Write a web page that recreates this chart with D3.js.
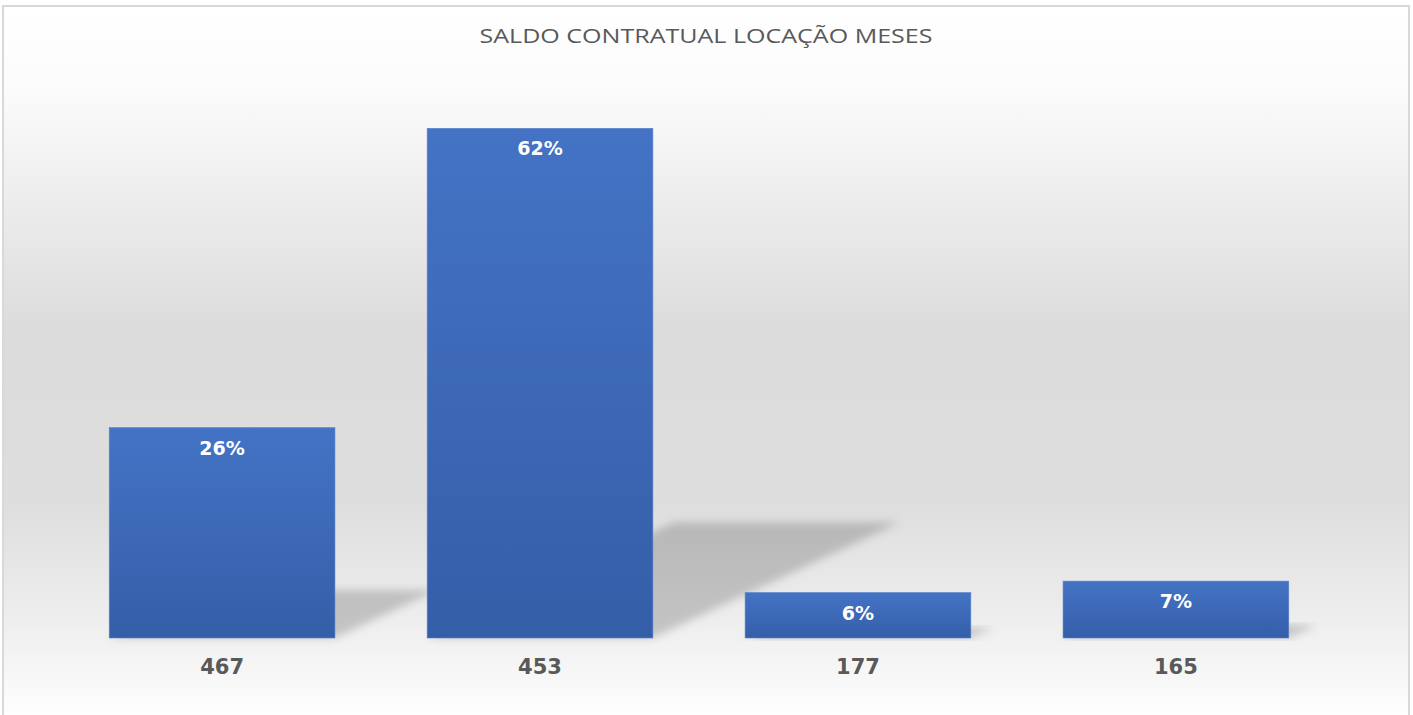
<!DOCTYPE html>
<html>
<head>
<meta charset="utf-8">
<script src="https://cdn.jsdelivr.net/npm/d3@7"></script>
<style>
	html, body { margin: 0; padding: 0; background: #fff; }
	svg { display: block; }
</style>
</head>
<body>
<div id="chart"></div>
<script>
// data
const titleText = 'SALDO CONTRATUAL LOCAÇÃO MESES';
const categories = ['467', '453', '177', '165'];
const shares = [0.256, 0.62, 0.0553, 0.0692];

const width = 1413, height = 715;
const baseY = 638;

let svg = d3.select('#chart').append('svg')
			.attr('width', width)
			.attr('height', height);

let defs = svg.append('defs');

// chart area background: white -> grey -> white
let bg = defs.append('linearGradient')
			.attr('id', 'bgGrad')
			.attr('x1', 0).attr('y1', 0).attr('x2', 0).attr('y2', 1);
[[0, '#ffffff'], [0.12, '#fbfbfb'], [0.45, '#dcdcdc'], [0.7, '#dedede'],
 [0.86, '#eeeeee'], [1, '#ffffff']].forEach(function(s) {
	bg.append('stop').attr('offset', s[0]).attr('stop-color', s[1]);
});

// bar fill, lighter at top
let barGrad = defs.append('linearGradient')
			.attr('id', 'barGrad')
			.attr('x1', 0).attr('y1', 0).attr('x2', 0).attr('y2', 1);
barGrad.append('stop').attr('offset', 0).attr('stop-color', '#4473c5');
barGrad.append('stop').attr('offset', 1).attr('stop-color', '#355ea8');

defs.append('filter')
	.attr('id', 'blur')
	.attr('x', '-20%').attr('y', '-20%').attr('width', '140%').attr('height', '140%')
	.append('feGaussianBlur')
	.attr('stdDeviation', 4);

svg.append('rect')
	.attr('x', 3)
	.attr('y', 6)
	.attr('width', 1406)
	.attr('height', 716)
	.style('fill', 'url(#bgGrad)')
	.style('stroke', '#d9d9d9')
	.style('stroke-width', 2);

svg.append('text')
	.attr('x', 706)
	.attr('y', 43)
	.attr('text-anchor', 'middle')
	.attr('textLength', 453)
	.attr('lengthAdjust', 'spacingAndGlyphs')
	.style('font-family', '"Open Sans", sans-serif')
	.style('font-size', '20px')
	.style('fill', '#595959')
	.text(titleText);

let x = d3.scaleBand()
			.domain(categories)
			.range([17, 1381])
			.padding(0.29);

let y = d3.scaleLinear()
			.domain([0, 0.62])
			.range([baseY, 128.3]);

let data = categories.map((c, i) => ({cat: c, v: shares[i]}));

// perspective shadows behind the bars
svg.append('g').selectAll('polygon')
	.data(data)
	.enter().append('polygon')
	.attr('points', function(d) {
		let x0 = x(d.cat), x1 = x0 + x.bandwidth();
		let h = baseY - y(d.v);
		let dx = h * 0.484, dy = h * 0.227;
		return [[x0, baseY], [x1, baseY], [x1 + dx, baseY - dy], [x0 + dx, baseY - dy]]
				.map(p => p.join(',')).join(' ');
	})
	.style('fill', '#000')
	.style('fill-opacity', 0.18)
	.attr('filter', 'url(#blur)');

svg.append('g').selectAll('rect')
	.data(data)
	.enter().append('rect')
	.attr('x', d => x(d.cat))
	.attr('y', d => y(d.v))
	.attr('width', x.bandwidth())
	.attr('height', d => baseY - y(d.v))
	.style('fill', 'url(#barGrad)')
	.style('stroke', '#5a84cf')
	.style('stroke-width', 0.6);

svg.append('g').selectAll('text')
	.data(data)
	.enter().append('text')
	.attr('x', d => x(d.cat) + x.bandwidth() / 2)
	.attr('y', d => y(d.v) + 27)
	.attr('text-anchor', 'middle')
	.style('font-family', '"DejaVu Sans", sans-serif')
	.style('font-weight', 'bold')
	.style('font-size', '19px')
	.style('fill', '#ffffff')
	.text(d => d3.format('.0%')(d.v));

let axis = svg.append('g')
			.attr('transform', `translate(0, ${baseY})`)
			.call(d3.axisBottom(x).tickSize(0).tickPadding(21));
axis.select('.domain').remove();
axis.selectAll('text')
	.style('font-family', '"DejaVu Sans", sans-serif')
	.style('font-weight', 'bold')
	.style('font-size', '21px')
	.style('fill', '#595959');
</script>
</body>
</html>
